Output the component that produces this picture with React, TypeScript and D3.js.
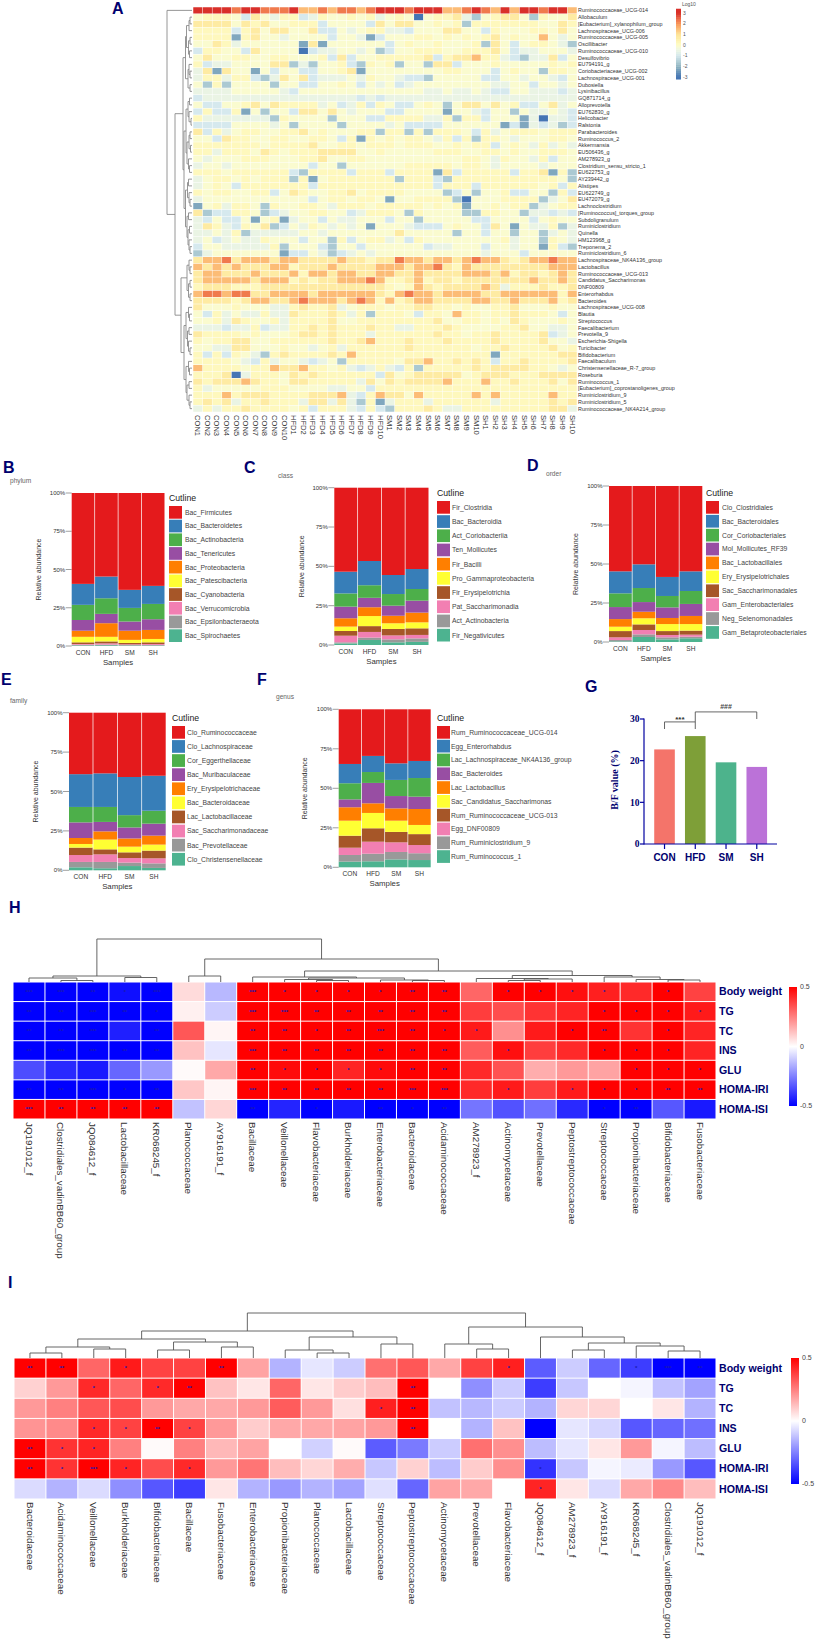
import React from "react";
import * as d3 from "d3";

const FONT = "'Liberation Sans', Arial, sans-serif";
const NAVY = "#00006e";

// ---------- Panel A ----------
const taxaA = ["Ruminococcaceae_UCG-014","Allobaculum","[Eubacterium]_xylanophilum_group","Lachnospiraceae_UCG-006","Ruminococcaceae_UCG-005","Oscillibacter","Ruminococcaceae_UCG-010","Desulfovibrio","EU794191_g","Coriobacteriaceae_UCG-002","Lachnospiraceae_UCG-001","Dubosiella","Lysinibacillus","GQ871714_g","Alloprevotella","EU762830_g","Helicobacter","Ralstonia","Parabacteroides","Ruminococcus_2","Akkermansia","EU506436_g","AM278923_g","Clostridium_sensu_stricto_1","EU622753_g","AY239442_g","Alistipes","EU622749_g","EU472079_g","Lachnoclostridium","[Ruminococcus]_torques_group","Subdoligranulum","Ruminiclostridium","Quinella","HM123968_g","Treponema_2","Ruminiclostridium_6","Lachnospiraceae_NK4A136_group","Lactobacillus","Ruminococcaceae_UCG-013","Candidatus_Saccharimonas","DNF00809","Enterorhabdus","Bacteroides","Lachnospiraceae_UCG-008","Blautia","Streptococcus","Faecalibacterium","Prevotella_9","Escherichia-Shigella","Turicibacter","Bifidobacterium","Faecalibaculum","Christensenellaceae_R-7_group","Roseburia","Ruminococcus_1","[Eubacterium]_coprostanoligenes_group","Ruminiclostridium_9","Ruminiclostridium_5","Ruminococcaceae_NK4A214_group"];
const samplesA = ["CON","HFD","SM","SH"].flatMap((g) => d3.range(1, 11).map((i) => g + i));
// one character per sample, index into logLevels (X = 10)
const logLevels = [-3, -2.2, -1.6, -1, -0.5, -0.1, 0.22, 0.75, 1.55, 2.3, 3];
const abundanceA = [
"XXXX9XX999 X88989989X XX9XXX889X 98X8XX9XX8",
"5666537546 6346556564 5650566742 5677526557",
"7777576755 6663555537 5775565626 6666665576",
"6666367577 5573354566 4435557755 3655566575",
"6666167554 5555355413 5556656565 6756558545",
"5576455555 5171555555 3565565556 2753566542",
"3665537555 5034455452 3556665566 6753445554",
"5755665566 5556373556 6666736778 6643244735",
"6344555577 2425563265 6255277355 5655555656",
"4717551535 5335567155 5555556655 5356552665",
"4664663247 5734445465 5433255555 3355455435",
"5262555525 5335565354 5345555555 5445535545",
"4444555554 3555555555 5555445445 4335544434",
"3444444444 4444444343 4444444444 4444444444",
"5335567576 6664534636 5335652577 5756335745",
"3633615255 3775754555 3355551554 3552544543",
"6444444426 5555255533 6666446266 3555140443",
"3333555545 2555525555 4533335555 5513143423",
"7364566556 6756555662 6626266653 6456665666",
"5537665566 5566536165 6566546362 6654555665",
"6666666566 6675566566 6566655656 6356546454",
"6646665765 6667777556 5555566655 6656556665",
"5455566655 5667556655 5555555566 5465546355",
"4554555555 5535525555 5566666566 5455554555",
"6665666666 3266663666 3666617366 6663667162",
"4566565666 2615666666 6266632666 6666666652",
"4565366666 6636666666 6666636663 6666665636",
"6566556635 7655667566 6655552352 5563355263",
"4555555555 5535665665 1556666205 5566662457",
"1564665265 5665466656 6666565615 5656624566",
"7233665234 5566553466 6526555522 6655244343",
"4353351561 4553544555 3552555553 3555535655",
"4764365723 5465454515 5543335655 3751544624",
"4454624444 4554555555 5755555255 3552552454",
"4534544655 5355263566 4536555555 5564552654",
"3554444462 5553255355 5555344555 3554551632",
"2455555551 3354234545 5555555555 4555355555",
"7889788878 8777787767 7988788789 8876788988",
"8787877788 6777877778 8878897687 7777777888",
"7887778777 8688788778 8778777788 8786776787",
"7888887888 6767788898 6678677677 7777787787",
"6777666777 7777777777 6568767777 8746667667",
"8998997788 8878888887 6898878888 7788888868",
"7777678877 8988878986 8678877778 8778777867",
"7555655544 6766745666 5667766565 5667555655",
"5364544644 7666764626 6653665866 5667666535",
"5564765564 6666755666 6666675566 5657655565",
"4443446344 6676766676 6446667655 5566755445",
"7666656555 6776766646 6666676656 6766667345",
"6566775566 6666766786 6676667666 6766667554",
"5544775556 5545646666 6676666665 6676666756",
"6363654267 6666768666 6666666666 6166666677",
"6666543645 5434526666 6577866767 6366766667",
"8666656687 7866564346 4362666667 6777766545",
"6667046665 7676666663 7567777756 7776667777",
"7677787665 7766666475 7677778666 8667666757",
"6455555666 5555445536 6666666666 6666666666",
"6668677766 6677784368 7758666668 6866666866",
"6767466766 6477474261 4666466666 6466666767",
"4646676666 5636664363 2666764466 6666666774",
];
const logTicks = [3, 2, 1, 0, -1, -2, -3];

type Tree = number | [number, Tree, Tree];
const groupA1: Tree = [6.5, [5.5, [3, [2, 0, 0], 0], [3.5, [2, 0, 0], [2.5, 0, 0]]], [4, [3, 0, [2, 0, 0]], [2, 0, 0]]];
const groupA2: Tree = [8, [6, [4, [2.5, 0, 0], [3, 0, [1, 0, 0]]], [5, [3, [2, 0, 0], [1.5, 0, 0]], [3.5, 0, [2.5, 0, 0]]]], [6.5, [4.5, [3.5, 0, 0], [3, 0, [2, 0, 0]]], [5, [3.5, 0, 0], [4, [2.5, 0, 0], [3, 0, [2, 0, 0]]]]]];
const groupA3: Tree = [5, [3, 0, [2, 0, 0]], [3.5, [2, 0, 0], [2, 0, 0]]];
const groupA4: Tree = [8, [6, [3.5, 0, [2.5, 0, 0]], [4.5, [3, 0, 0], [3.5, 0, [2, 0, 0]]]], [6, [3.5, 0, [2.5, 0, 0]], [5, [3, 0, 0], [3, 0, [2, 0, 0]]]]];
const treeA: Tree = [25, 0, [17, [9, groupA1, groupA2], [11, groupA3, groupA4]]];

// ---------- Stacked panels ----------
const groups = ["CON", "HFD", "SM", "SH"];
// lower edge (%) of each taxon, from the top taxon downwards; the last one reaches 0
const phylumNames = ["Bac_Firmicutes","Bac_Bacteroidetes","Bac_Actinobacteria","Bac_Tenericutes","Bac_Proteobacteria","Bac_Patescibacteria","Bac_Cyanobacteria","Bac_Verrucomicrobia","Bac_Epsilonbacteraeota","Bac_Spirochaetes"];
const phylumEdges = [
  [40.6, 26.9, 17, 10, 6, 2.4, 1.3, 0.8, 0.4],
  [45.4, 31.2, 21, 14.9, 6, 3, 1.7, 0.9, 0.5],
  [36.7, 24.9, 16, 10, 4, 2, 1.1, 0.7, 0.3],
  [39.3, 27.5, 17.5, 10.5, 4.6, 2.4, 1.3, 0.7, 0.3],
];
const classNames = ["Fir_Clostridia","Bac_Bacteroidia","Act_Coriobacteriia","Ten_Mollicutes","Fir_Bacilli","Pro_Gammaproteobacteria","Fir_Erysipelotrichia","Pat_Saccharimonadia","Act_Actinobacteria","Fir_Negativicutes"];
const classEdges = [
  [46.6, 32.8, 24.4, 17, 11.7, 8.9, 5.9, 1.7, 1],
  [53.4, 38, 30, 24, 18.4, 12, 8.3, 4.7, 3.2],
  [44.5, 32.4, 25, 18.6, 13.8, 10.2, 6.1, 3.6, 1.7],
  [48.3, 35.6, 28.2, 20.6, 14.4, 10.6, 6.4, 4.2, 2],
];
const orderNames = ["Clo_Clostridiales","Bac_Bacteroidales","Cor_Coriobacteriales","Mol_Mollicutes_RF39","Bac_Lactobacillales","Ery_Erysipelotrichales","Sac_Saccharimonadales","Gam_Enterobacteriales","Neg_Selenomonadales","Gam_Betaproteobacteriales"];
const orderEdges = [
  [45.3, 31.2, 22.4, 14.7, 9.8, 7, 3, 1.3, 0.4],
  [49.8, 34.6, 25.6, 19.4, 15.2, 11.3, 7.7, 4.9, 3.2],
  [41.7, 29.5, 22.2, 15.4, 11.5, 7, 4.5, 3, 1.7],
  [45.3, 32.7, 24.4, 16.7, 11.5, 7.3, 4.7, 3.4, 2.4],
];
const familyNames = ["Clo_Ruminococcaceae","Clo_Lachnospiraceae","Cor_Eggerthellaceae","Bac_Muribaculaceae","Ery_Erysipelotrichaceae","Bac_Bacteroidaceae","Lac_Lactobacillaceae","Sac_Saccharimonadaceae","Bac_Prevotellaceae","Clo_Christensenellaceae"];
const familyEdges = [
  [61, 40.2, 30.4, 20.5, 16.7, 14.4, 9.7, 5.3, 1.9],
  [61.5, 40.2, 30.7, 24.7, 19.5, 13.3, 10.1, 5.3, 1.3],
  [59.2, 35, 27.2, 20.2, 15, 11.4, 7.8, 4.9, 2.7],
  [60, 37.8, 29.6, 22, 16.3, 12.5, 7.6, 4.4, 1.5],
];
const genusNames = ["Rum_Ruminococcaceae_UCG-014","Egg_Enterorhabdus","Lac_Lachnospiraceae_NK4A136_group","Bac_Bacteroides","Lac_Lactobacillus","Sac_Candidatus_Saccharimonas","Rum_Ruminococcaceae_UCG-013","Egg_DNF00809","Rum_Ruminiclostridium_9","Rum_Ruminococcus_1"];
const genusEdges = [
  [65.4, 53.2, 43, 38, 29.5, 20, 12.4, 7.8, 3.6],
  [70.5, 60.3, 53.4, 40.5, 34.4, 24.7, 16.2, 8.6, 3.8],
  [65.8, 55.3, 45.1, 37.3, 29.5, 22.4, 15.8, 9.7, 5],
  [67.3, 56.5, 44.7, 36.9, 26.8, 21, 14.1, 8.9, 4.6],
];
const stackColors = ["#e41a1c","#377eb8","#4daf4a","#984ea3","#ff7f00","#ffff33","#a65628","#f27fb2","#999999","#4db390"];
const pctTicks = [0, 25, 50, 75, 100];

// ---------- Panel G ----------
const bfValues = [22.7, 25.9, 19.6, 18.5];
const bfColors = ["#f4746a", "#7e9f38", "#4db38c", "#bb72d8"];
const bfTicks = [0, 10, 20, 30];

// ---------- Panels H, I ----------
const clinical = ["Body weight", "TG", "TC", "INS", "GLU", "HOMA-IRI", "HOMA-ISI"];
const namesH = ["JQ191012_f","Clostridiales_vadinBB60_group","JQ084612_f","Lactobacillaceae","KR068245_f","Planococcaceae","AY916191_f","Bacillaceae","Veillonellaceae","Flavobacteriaceae","Burkholderiaceae","Enterobacteriaceae","Bacteroidaceae","Acidaminococcaceae","AM278923_f","Actinomycetaceae","Prevotellaceae","Peptostreptococcaceae","Streptococcaceae","Propionibacteriaceae","Bifidobacteriaceae","Fusobacteriaceae"];
const corrH = [
  [-.5,-.5,-.5,-.5,-.35,-.5,.5],[-.5,-.5,-.5,-.5,-.42,-.5,.5],[-.5,-.5,-.5,-.5,-.45,-.5,.5],[-.47,-.5,-.44,-.5,-.3,-.5,.5],[-.5,-.5,-.5,-.5,-.2,-.5,.5],
  [.07,.03,.33,.12,.01,.11,-.12],[-.14,-.1,.02,-.05,.17,.02,.08],
  [.5,.5,.5,.5,.5,.5,-.5],[.5,.5,.5,.5,.48,.5,-.43],[.5,.5,.5,.5,.5,.5,-.5],[.5,.5,.5,.5,.43,.5,-.45],[.5,.5,.5,.5,.48,.5,-.5],[.5,.5,.5,.5,.5,.5,-.5],[.5,.5,.5,.5,.5,.5,-.5],
  [.3,.38,.45,.32,.42,.42,-.27],[.5,.35,.22,.47,.34,.45,-.34],[.5,.4,.45,.38,.16,.38,-.28],[.47,.43,.5,.42,.2,.45,-.42],[.44,.5,.5,.5,.18,.5,-.5],[.42,.5,.4,.5,.5,.5,-.5],[.5,.5,.5,.5,.5,.5,-.33],[.37,.45,.43,.43,.5,.5,-.45],
];
// significance stars per cell, digits = number of stars
const starsH = ["3222023","3223022","2333032","1202012","3122022","0000000","0000000","3323232","1322120","1212121","1222120","1232122","2222231","2212232","0010000","1001010","1000000","1010010","1121011","0101112","1111120","0100120"];
const treeH: Tree = [43, [6, [4, 0, [1.5, 0, 0]], [4.5, 0, 0]],
  [23, [6, 0, 0],
    [11, [5, 0, [4, [2.5, 0, [1.5, 0, 0]], [2, 0, [1.5, 0, 0]]]],
         [6.5, [3.5, 0, [3, [1.5, 0, 0], 0]], [5, 0, [2.5, 0, [2, 0, 0]]]]]]];

const namesI = ["Bacteroidaceae","Acidaminococcaceae","Veillonellaceae","Burkholderiaceae","Bifidobacteriaceae","Bacillaceae","Fusobacteriaceae","Enterobacteriaceae","Propionibacteriaceae","Planococcaceae","Lactobacillaceae","Streptococcaceae","Peptostreptococcaceae","Actinomycetaceae","Prevotellaceae","Flavobacteriaceae","JQ084612_f","AM278923_f","AY916191_f","KR068245_f","Clostridiales_vadinBB60_group","JQ191012_f"];
const corrI = [
  [.5,.09,.2,.21,.5,.5,-.07],[.5,.2,.25,.23,.4,.4,-.15],[.3,.42,.33,.42,.43,.5,-.07],[.45,.3,.35,.37,.25,.43,-.22],[.37,.42,.2,.5,.01,.35,-.33],[.37,.5,.17,.37,.25,.42,-.38],[.5,.12,.17,.2,.14,.2,.05],[.18,.05,.2,.1,.18,.27,-.15],
  [-.15,.3,.32,.17,.0,.13,-.2],[-.05,.05,.2,.17,-.09,.08,-.15],[-.1,.1,.06,.18,.01,.16,-.18],[.28,.13,.44,.2,-.32,-.11,-.06],[.33,.5,.5,.5,-.26,.09,-.3],[.17,.0,-.12,.0,-.1,-.13,.18],[.37,-.22,-.14,-.15,.28,.1,.17],[.44,-.1,-.1,.12,.22,.22,.0],
  [-.32,-.38,-.15,-.5,-.13,-.4,.43],[-.1,-.11,.08,-.05,-.05,-.11,.05],[-.3,.0,.08,-.08,.05,-.02,-.07],[-.38,-.02,.0,-.33,.2,-.04,.17],[-.5,-.12,.05,-.3,-.02,-.2,.23],[-.5,-.18,-.15,-.28,-.13,-.33,.13],
];
const starsI = ["2000220","2000110","0101130","1001010","0102000","0201010","2000000","0000000","0000000","0000000","0000000","0010000","0222000","0000000","0000000","1000000","0000011","0000000","0000000","1000000","3000000","2000000"];
const treeI: Tree = [45,
  [27,
    [19, [11, [5, 0, 0], [9, 0, 0]], [16, [8, 0, 0], [11, 0, 0]]],
    [21, [8, 0, [5, 0, 0]], [14, 0, 0]]],
  [31,
    [14, 0, [9, 0, 0]],
    [21, 0, [15, [8, 0, 0], [12, 0, [7, 0, 0]]]]]];

const corrColor = d3.scaleLinear<string>().domain([-0.5, 0, 0.5]).range(["#0000ff", "#ffffff", "#ff0000"]).clamp(true);
const logColor = d3.scaleLinear<string>().domain([-3, -2, -1, -0.4, 0, 1, 2, 3]).range(["#4575b4", "#8fb4c0", "#d6e9ee", "#eef6e2", "#fefdc8", "#fee596", "#fa9a5c", "#d9302a"]);

function treeSegments(tree: Tree) {
  const segs: { a: number; b: number; h: number; ha: number; hb: number }[] = [];
  let leaf = 0;
  const walk = (n: Tree): { pos: number; h: number } => {
    if (typeof n === "number") return { pos: leaf++, h: 0 };
    const l = walk(n[1]);
    const r = walk(n[2]);
    segs.push({ a: l.pos, b: r.pos, h: n[0], ha: l.h, hb: r.h });
    return { pos: (l.pos + r.pos) / 2, h: n[0] };
  };
  walk(tree);
  return segs;
}

function Dendro({ tree, pos, base, orient, stroke = "#555" }: any) {
  const segs = treeSegments(tree);
  return (
    <g fill="none" stroke={stroke} strokeWidth={0.9}>
      {segs.map((s, i) => {
        const d = orient === "top"
          ? `M${pos(s.a)},${base - s.ha}V${base - s.h}H${pos(s.b)}V${base - s.hb}`
          : `M${base - s.ha},${pos(s.a)}H${base - s.h}V${pos(s.b)}H${base - s.hb}`;
        return <path key={i} d={d} />;
      })}
    </g>
  );
}

function PanelA() {
  const rows = abundanceA.map((r) => r.replace(/\s/g, "").split("").map((c) => logLevels[c === "X" ? 10 : +c]));
  const x = d3.scaleBand<string>().domain(samplesA).range([193, 577]);
  const y = d3.scaleBand<string>().domain(taxaA).range([7, 412]);
  const pos = d3.scaleLinear().domain([0, taxaA.length - 1]).range([y(taxaA[0])! + y.bandwidth() / 2, y(taxaA[taxaA.length - 1])! + y.bandwidth() / 2]);
  const cb = d3.scaleLinear().domain([-3, 3]).range([77, 13]);
  const stops = d3.range(-3.2, 3.41, 0.2);
  return (
    <g fontFamily={FONT}>
      {rows.map((r, i) => r.map((v, j) => (
        <rect key={i + "-" + j} x={x(samplesA[j])! + 0.25} y={y(taxaA[i])! + 0.25} width={x.bandwidth() - 0.5} height={y.bandwidth() - 0.5} fill={logColor(v)} />
      )))}
      <Dendro tree={treeA} pos={pos} base={192} orient="left" stroke="#8a8a8a" />
      {taxaA.map((t) => (
        <text key={t} x={578} y={y(t)! + y.bandwidth() / 2} dy=".35em" fontSize={5.4} fill="#333">{t}</text>
      ))}
      {samplesA.map((s) => (
        <text key={s} transform={`translate(${x(s)! + x.bandwidth() / 2},415) rotate(90)`} dy=".35em" fontSize={7.6} fill="#333">{s}</text>
      ))}
      {stops.slice(0, -1).map((v, i) => (
        <rect key={i} x={676} y={cb(v + 0.2)} width={5} height={cb(v) - cb(v + 0.2) + 0.4} fill={logColor(Math.min(3, Math.max(-3, v + 0.1)))} />
      ))}
      {logTicks.map((t) => (
        <text key={t} x={683} y={cb(t)} dy=".35em" fontSize={5} fill="#555">{t}</text>
      ))}
      <text x={682} y={5.5} fontSize={5} fill="#555">Log10</text>
    </g>
  );
}

function StackPanel({ names, edges, x0, x1, top, bottom, yLabelX, legendX, legendTop, step, labelX, letter, letterX, letterY, sub, subX, subY }: any) {
  const x = d3.scaleBand<string>().domain(groups).range([x0, x1]).paddingInner(0.03);
  const y = d3.scaleLinear().domain([0, 100]).range([bottom, top]);
  // turn the edges into taxon shares, then stack them
  const table = groups.map((g, i) => {
    const e = [100, ...edges[i], 0];
    const row: any = { group: g };
    names.forEach((n: string, k: number) => { row[n] = e[k] - e[k + 1]; });
    return row;
  });
  const series = d3.stack().keys([...names].reverse())(table);
  const mid = (top + bottom) / 2;
  const xMid = (x0 + x1) / 2;
  return (
    <g fontFamily={FONT}>
      <text x={letterX} y={letterY} fontSize={16} fontWeight="bold" fill={NAVY}>{letter}</text>
      <text x={subX} y={subY} fontSize={6.6} fill="#666">{sub}</text>
      {pctTicks.map((t) => (
        <g key={t}>
          <line x1={x0 - 6} x2={x0} y1={y(t)} y2={y(t)} stroke="#888" strokeWidth={0.8} />
          <text x={x0 - 6.5} y={y(t)} dy=".35em" textAnchor="end" fontSize={6} fill="#333">{t}%</text>
        </g>
      ))}
      {series.map((s: any) => (
        <g key={s.key} fill={stackColors[names.indexOf(s.key)]}>
          {s.map((d: any, i: number) => (
            <rect key={i} x={x(groups[i])} width={x.bandwidth()} y={y(d[1])} height={y(d[0]) - y(d[1])} />
          ))}
        </g>
      ))}
      {groups.map((g) => (
        <text key={g} x={x(g)! + x.bandwidth() / 2} y={bottom + 8.5} textAnchor="middle" fontSize={6.6} fill="#333">{g}</text>
      ))}
      <text x={xMid} y={bottom + 19} textAnchor="middle" fontSize={7.8} fill="#333">Samples</text>
      <text transform={`translate(${yLabelX},${mid}) rotate(-90)`} dy=".35em" textAnchor="middle" fontSize={7} fill="#333">Relative abundance</text>
      <text x={legendX} y={legendTop - 5} fontSize={8.7} fill="#222">Cutline</text>
      {names.map((n: string, i: number) => (
        <g key={n}>
          <rect x={legendX} y={legendTop + i * step} width={13} height={12.7} fill={stackColors[i]} />
          <text x={labelX} y={legendTop + i * step + 6.4} dy=".35em" fontSize={6.8} fill="#444">{n}</text>
        </g>
      ))}
    </g>
  );
}

function PanelG() {
  const x = d3.scaleBand<string>().domain(groups).range([649.3, 772]).paddingInner(0.33).paddingOuter(0.16);
  const y = d3.scaleLinear().domain([0, 30]).range([844, 719]);
  const cx = (g: string) => x(g)! + x.bandwidth() / 2;
  return (
    <g fontFamily={FONT}>
      <text x={585} y={692} fontSize={16} fontWeight="bold" fill={NAVY}>G</text>
      {groups.map((g, i) => (
        <rect key={g} x={x(g)} width={x.bandwidth()} y={y(bfValues[i])} height={y(0) - y(bfValues[i])} fill={bfColors[i]} />
      ))}
      <g stroke="#0000a0" strokeWidth={1.2} fill="none">
        <line x1={644} x2={644} y1={y(30) - 0.6} y2={y(0) + 0.6} />
        <line x1={644} x2={777} y1={y(0)} y2={y(0)} />
        {bfTicks.map((t) => <line key={t} x1={640} x2={644} y1={y(t)} y2={y(t)} />)}
        {groups.map((g) => <line key={g} x1={cx(g)} x2={cx(g)} y1={y(0)} y2={y(0) + 5} />)}
      </g>
      {bfTicks.map((t) => (
        <text key={t} x={639.5} y={y(t)} dy=".35em" textAnchor="end" fontSize={9.5} fontWeight="bold" fontFamily="'Liberation Serif', serif" fill={NAVY}>{t}</text>
      ))}
      {groups.map((g) => (
        <text key={g} x={cx(g)} y={860.5} textAnchor="middle" fontSize={10} fontWeight="bold" fill={NAVY}>{g}</text>
      ))}
      <text transform={`translate(614,780) rotate(-90)`} dy=".35em" textAnchor="middle" fontSize={10} fontWeight="bold" fontFamily="'Liberation Serif', serif" fill={NAVY}>B/F value (%)</text>
      <g fill="none" stroke="#555" strokeWidth={0.9}>
        <path d={`M${cx("CON")},${y(27.6)}V${y(29.3)}H${cx("HFD")}V${y(27.6)}`} />
        <path d={`M${cx("HFD")},${y(29.3)}V${y(31.7)}H${cx("SH")}V${y(30)}`} />
      </g>
      <text x={(cx("CON") + cx("HFD")) / 2} y={722} textAnchor="middle" fontSize={8} fontWeight="bold" fill="#333">***</text>
      <text x={(cx("HFD") + cx("SH")) / 2} y={709} textAnchor="middle" fontSize={7} fontWeight="bold" fill="#444">###</text>
    </g>
  );
}

function CorrPanel({ names, corr, stars, tree, x0, x1, top, bottom, treeBase, letter, letterY, barX, barTop, barBottom, labelTop }: any) {
  const x = d3.scaleBand<string>().domain(names).range([x0, x1]);
  const y = d3.scaleBand<string>().domain(clinical).range([top, bottom]);
  const pos = d3.scaleLinear().domain([0, names.length - 1]).range([x(names[0])! + x.bandwidth() / 2, x(names[names.length - 1])! + x.bandwidth() / 2]);
  const bar = d3.scaleLinear().domain([-0.5, 0.5]).range([barBottom, barTop]);
  const grad = "grad" + letter;
  return (
    <g fontFamily={FONT}>
      <text x={letter === "H" ? 9 : 8} y={letterY} fontSize={16} fontWeight="bold" fill={NAVY}>{letter}</text>
      <Dendro tree={tree} pos={pos} base={treeBase} orient="top" />
      {names.map((n: string, j: number) => clinical.map((c, i) => (
        <g key={n + c}>
          <rect x={x(n)! + 0.5} y={y(c)! + 0.5} width={x.bandwidth() - 1} height={y.bandwidth() - 1} fill={corrColor(corr[j][i])} />
          {+stars[j][i] > 0 && (
            <text x={x(n)! + x.bandwidth() / 2} y={y(c)! + y.bandwidth() / 2 + 2.2} textAnchor="middle" fontSize={6} fontWeight="bold" fill="#1a1ab0">{"*".repeat(+stars[j][i])}</text>
          )}
        </g>
      )))}
      {names.map((n: string) => (
        <text key={n} transform={`translate(${x(n)! + x.bandwidth() / 2},${labelTop}) rotate(90)`} dy=".35em" fontSize={9.8} fill="#333">{n}</text>
      ))}
      {clinical.map((c) => (
        <text key={c} x={719} y={y(c)! + y.bandwidth() / 2} dy=".35em" fontSize={10.6} fontWeight="bold" fill={NAVY}>{c}</text>
      ))}
      <defs>
        <linearGradient id={grad} x1="0" x2="0" y1="1" y2="0">
          {[-0.5, 0, 0.5].map((v) => <stop key={v} offset={(v + 0.5)} stopColor={corrColor(v)} />)}
        </linearGradient>
      </defs>
      <rect x={barX} y={barTop} width={8} height={barBottom - barTop} fill={`url(#${grad})`} />
      {[0.5, 0, -0.5].map((v) => (
        <text key={v} x={barX + 11} y={bar(v)} dy=".35em" fontSize={7} fill="#444">{v}</text>
      ))}
    </g>
  );
}

export default function App() {
  return (
    <svg width={817} height={1645} viewBox="0 0 817 1645" style={{ position: "absolute", left: 0, top: 0, display: "block", background: "#fff" }}>
      <text x={112} y={14} fontFamily={FONT} fontSize={16} fontWeight="bold" fill={NAVY}>A</text>
      <PanelA />
      <StackPanel names={phylumNames} edges={phylumEdges} x0={71.7} x1={164.5} top={493} bottom={646} yLabelX={39} legendX={169} legendTop={506} step={13.7} labelX={185} letter="B" letterX={3} letterY={473} sub="phylum" subX={10} subY={483} />
      <StackPanel names={classNames} edges={classEdges} x0={334.3} x1={428.5} top={487.7} bottom={645} yLabelX={302} legendX={437} legendTop={501} step={14.2} labelX={452} letter="C" letterX={244} letterY={473} sub="class" subX={278} subY={478} />
      <StackPanel names={orderNames} edges={orderEdges} x0={609} x1={702.3} top={486} bottom={642} yLabelX={576} legendX={706} legendTop={501} step={13.9} labelX={722} letter="D" letterX={527} letterY={471} sub="order" subX={546} subY={476} />
      <StackPanel names={familyNames} edges={familyEdges} x0={69} x1={165.7} top={712.7} bottom={870.3} yLabelX={36} legendX={172} legendTop={726} step={14.1} labelX={187} letter="E" letterX={1} letterY={685} sub="family" subX={10} subY={703} />
      <StackPanel names={genusNames} edges={genusEdges} x0={338.7} x1={430.7} top={709.3} bottom={867.3} yLabelX={305} legendX={437} legendTop={726} step={13.8} labelX={451} letter="F" letterX={257} letterY={685} sub="genus" subX={276} subY={699} />
      <PanelG />
      <CorrPanel names={namesH} corr={corrH} stars={starsH} tree={treeH} x0={13} x1={716} top={982} bottom={1119} treeBase={982} letter="H" letterY={913} barX={789} barTop={987} barBottom={1106} labelTop={1122} />
      <CorrPanel names={namesI} corr={corrI} stars={starsI} tree={treeI} x0={14} x1={716} top={1358} bottom={1499} treeBase={1358} letter="I" letterY={1288} barX={791} barTop={1358} barBottom={1484} labelTop={1502} />
    </svg>
  );
}
